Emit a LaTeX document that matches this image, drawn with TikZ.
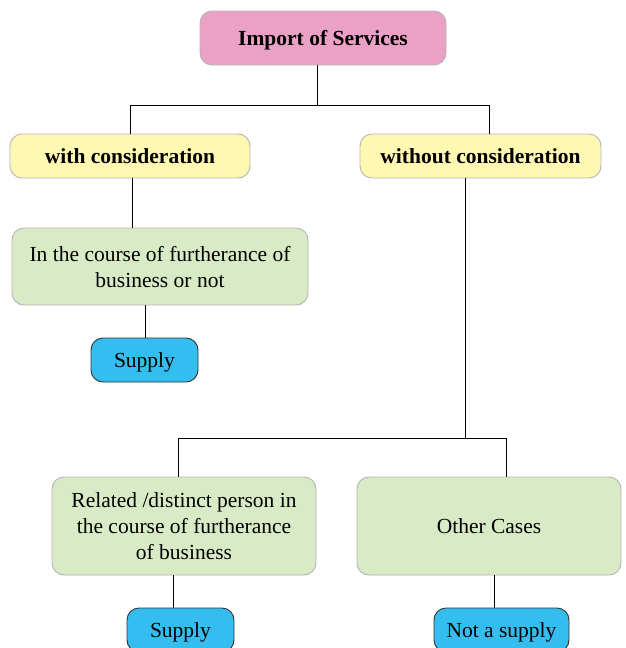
\documentclass[tikz,border=0pt]{standalone}
\usepackage{fontspec}
\setmainfont{Liberation Serif}
\usepackage{xcolor}
\usetikzlibrary{positioning}

\definecolor{headpink}{HTML}{EAA1C5}
\definecolor{caseyellow}{HTML}{FFF8B3}
\definecolor{condgreen}{HTML}{D9EBC6}
\definecolor{resblue}{HTML}{33BEEF}
\definecolor{boxgray}{HTML}{B4B4B4}

\begin{document}
\begin{tikzpicture}[x=1pt, y=-1pt,
    box/.style={draw=boxgray, line width=0.9pt, rounded corners=12pt, align=center,
        inner sep=0pt, text depth=0pt, font=\fontsize{21.5}{26}\selectfont},
    head/.style={box, fill=headpink, font=\fontsize{21.5}{26}\selectfont\bfseries},
    casebox/.style={box, fill=caseyellow, font=\fontsize{21.5}{26}\selectfont\bfseries},
    condbox/.style={box, fill=condgreen},
    resbox/.style={box, draw=black!80, fill=resblue},
    link/.style={black, line width=1pt}]
    \clip (0,0) rectangle (626,648);
    \useasboundingbox (0,0) rectangle (626,648);

    % Head
    \node[head, minimum width=246pt, minimum height=54pt] (imp) at (323,38) {Import of Services};

    % Two cases
    \node[casebox, minimum width=240pt, minimum height=44pt] (with) at (130,156) {with consideration};
    \node[casebox, minimum width=241pt, minimum height=44pt] (without) at (480.5,156) {without consideration};

    % Conditions
    \node[condbox, minimum width=296pt, minimum height=77pt] (course) at (160,266.5)
        {In the course of furtherance of\\business or not};
    \node[condbox, minimum width=264pt, minimum height=98pt] (related) at (184,526)
        {Related /distinct person in\\the course of furtherance\\of business};
    \node[condbox, minimum width=264pt, minimum height=98pt] (other) at (489,526) {Other Cases};

    % Results
    \node[resbox, minimum width=107pt, minimum height=44pt] (supA) at (144.5,360) {Supply};
    \node[resbox, minimum width=107pt, minimum height=44pt] (supB) at (180.5,630) {Supply};
    \node[resbox, minimum width=135pt, minimum height=44pt] (nosup) at (501.5,630) {Not a supply};

    % Junctions
    \coordinate (jtop) at (317,105);
    \coordinate (jwith) at (130,105);
    \coordinate (jwithout) at (489,105);
    \coordinate (jdown) at (465,438);
    \coordinate (jrel) at (178,438);
    \coordinate (joth) at (506,438);

    % Tree lines
    \draw[link] (imp.south -| jtop) -- (jtop);
    \draw[link] (with.north -| jwith) -- (jwith) -- (jwithout) -- (without.north -| jwithout);
    \draw[link] ([xshift=2pt]with.south) -- ([xshift=2pt]with.south |- course.north);
    \draw[link] ([xshift=0.5pt]supA.north |- course.south) -- ([xshift=0.5pt]supA.north);
    \draw[link] (without.south -| jdown) -- (jdown);
    \draw[link] (related.north -| jrel) -- (jrel) -- (joth) -- (other.north -| joth);
    \draw[link] ([xshift=-7.5pt]supB.north |- related.south) -- ([xshift=-7.5pt]supB.north);
    \draw[link] ([xshift=-7.5pt]nosup.north |- other.south) -- ([xshift=-7.5pt]nosup.north);
\end{tikzpicture}
\end{document}
